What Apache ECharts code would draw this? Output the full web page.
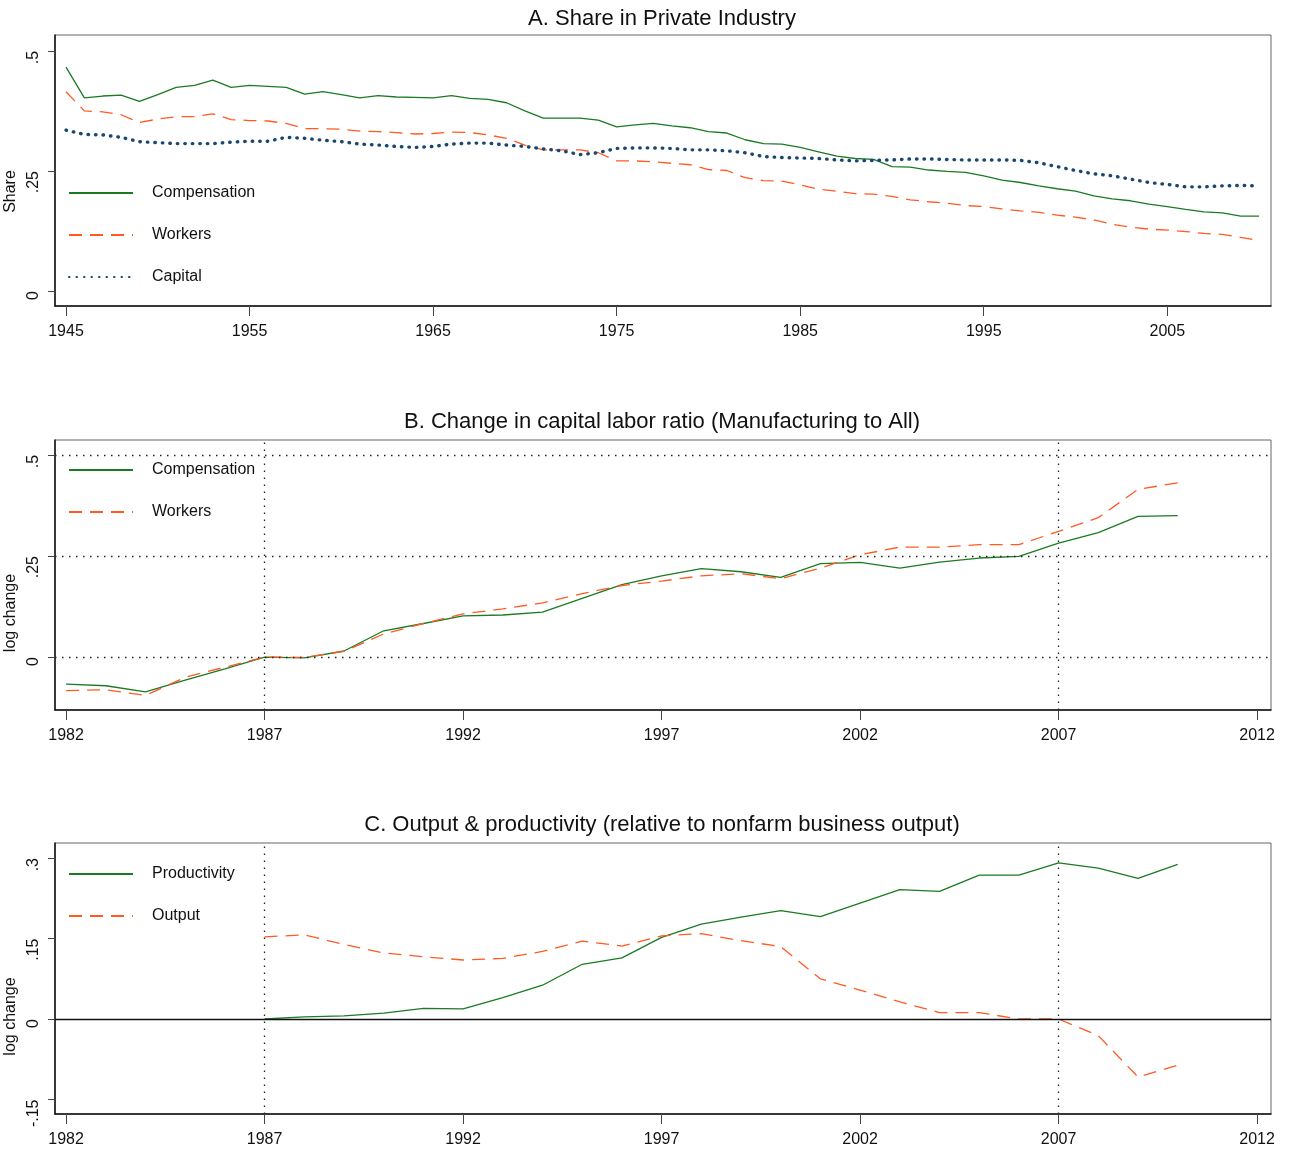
<!DOCTYPE html>
<html><head><meta charset="utf-8">
<script src="https://cdn.jsdelivr.net/npm/echarts@6/dist/echarts.min.js"></script>
<style>html,body{margin:0;padding:0;background:#fff}#c{width:1295px;height:1152px}</style>
</head><body><div id="c"></div><script>
// ---------- Panel A data ----------
const yearsA = [1945,1946,1947,1948,1949,1950,1951,1952,1953,1954,1955,1956,1957,1958,1959,1960,1961,1962,1963,1964,1965,1966,1967,1968,1969,1970,1971,1972,1973,1974,1975,1976,1977,1978,1979,1980,1981,1982,1983,1984,1985,1986,1987,1988,1989,1990,1991,1992,1993,1994,1995,1996,1997,1998,1999,2000,2001,2002,2003,2004,2005,2006,2007,2008,2009,2010];
const compA = [0.466,0.402,0.406,0.408,0.395,0.409,0.424,0.428,0.439,0.424,0.428,0.426,0.424,0.410,0.415,0.409,0.402,0.407,0.404,0.403,0.402,0.407,0.401,0.399,0.392,0.375,0.360,0.360,0.360,0.356,0.342,0.346,0.349,0.344,0.340,0.332,0.329,0.315,0.307,0.306,0.299,0.290,0.281,0.276,0.274,0.259,0.258,0.252,0.249,0.247,0.240,0.231,0.226,0.219,0.213,0.208,0.198,0.192,0.188,0.181,0.176,0.170,0.165,0.163,0.156,0.156];
const workA = [0.415,0.375,0.373,0.367,0.351,0.358,0.363,0.363,0.369,0.357,0.355,0.354,0.349,0.338,0.338,0.337,0.333,0.332,0.330,0.327,0.328,0.331,0.330,0.325,0.318,0.304,0.294,0.294,0.294,0.288,0.271,0.271,0.269,0.266,0.263,0.253,0.251,0.236,0.230,0.229,0.221,0.212,0.208,0.203,0.202,0.197,0.190,0.186,0.183,0.178,0.176,0.171,0.167,0.164,0.158,0.154,0.148,0.139,0.133,0.129,0.127,0.124,0.120,0.118,0.112,0.105];
const capA  = [0.335,0.326,0.325,0.320,0.311,0.309,0.307,0.307,0.307,0.310,0.312,0.312,0.320,0.318,0.314,0.311,0.306,0.304,0.301,0.299,0.301,0.306,0.308,0.308,0.304,0.301,0.296,0.292,0.284,0.288,0.297,0.298,0.298,0.297,0.294,0.294,0.292,0.288,0.280,0.278,0.277,0.276,0.273,0.271,0.272,0.273,0.275,0.275,0.274,0.273,0.273,0.273,0.272,0.267,0.259,0.251,0.244,0.240,0.233,0.226,0.222,0.217,0.217,0.219,0.220,0.219];
const ticksXA = [1945,1955,1965,1975,1985,1995,2005];
const ticksYA = [0,0.25,0.5];

// ---------- Panel B data ----------
const yearsB = [1982,1983,1984,1985,1986,1987,1988,1989,1990,1991,1992,1993,1994,1995,1996,1997,1998,1999,2000,2001,2002,2003,2004,2005,2006,2007,2008,2009,2010];
const compB = [-0.067,-0.071,-0.086,-0.057,-0.029,0,-0.002,0.015,0.065,0.083,0.102,0.104,0.111,0.145,0.179,0.201,0.219,0.211,0.197,0.231,0.234,0.220,0.235,0.245,0.249,0.282,0.308,0.348,0.350];
const workB = [-0.083,-0.081,-0.095,-0.050,-0.025,0,-0.001,0.014,0.057,0.083,0.107,0.119,0.134,0.157,0.177,0.188,0.201,0.206,0.194,0.220,0.253,0.272,0.272,0.278,0.278,0.311,0.345,0.415,0.431];
const ticksXB = [1982,1987,1992,1997,2002,2007,2012];
const ticksYB = [0,0.25,0.5];

// ---------- Panel C data ----------
const yearsC = [1987,1988,1989,1990,1991,1992,1993,1994,1995,1996,1997,1998,1999,2000,2001,2002,2003,2004,2005,2006,2007,2008,2009,2010];
const prodC = [0,0.004,0.006,0.011,0.020,0.019,0.040,0.063,0.102,0.114,0.152,0.177,0.190,0.202,0.191,0.216,0.241,0.238,0.268,0.268,0.291,0.281,0.262,0.288];
const outC  = [0.153,0.157,0.139,0.123,0.116,0.110,0.113,0.126,0.145,0.136,0.155,0.159,0.146,0.135,0.075,0.054,0.032,0.012,0.012,0.000,0.000,-0.031,-0.108,-0.086];
const ticksXC = [1982,1987,1992,1997,2002,2007,2012];
const ticksYC = [-0.15,0,0.15,0.3];
const refYears = [1987,2007];

// ---------- styles ----------
const FONT = 'Liberation Sans, Arial, sans-serif';
const GREEN = '#1c7a24', ORANGE = '#ff5a22', NAVY = '#1a476f';
const pairs = (xs, ys) => xs.map((x, i) => [x, ys[i]]);
const fmtY = v => { if (v === 0) return '0'; let s = String(v); return s.replace(/^0\./, '.').replace(/^-0\./, '-.'); };

function xAxis(idx, min, max, ticks) {
  return { type: 'value', gridIndex: idx, min, max,
    axisLine: { show: true, onZero: false, lineStyle: { color: '#111', width: 1.5 } },
    axisTick: { show: true, length: 10, customValues: ticks, lineStyle: { color: '#444', width: 1 } },
    axisLabel: { customValues: ticks, formatter: v => String(v), color: '#111', fontSize: 16, fontFamily: FONT, margin: 18 },
    splitLine: { show: false } };
}
function yAxis(idx, min, max, ticks, name, namePad) {
  return { type: 'value', gridIndex: idx, min, max,
    name, nameLocation: 'middle', nameGap: 24,
    nameTextStyle: { color: '#111', fontSize: 16, fontFamily: FONT, padding: [0, namePad, 0, 0] },
    axisLine: { show: true, onZero: false, lineStyle: { color: '#111', width: 1.5 } },
    axisTick: { show: true, length: 7, customValues: ticks, lineStyle: { color: '#444', width: 1 } },
    axisLabel: { customValues: ticks, rotate: 90, align: 'right', verticalAlign: 'bottom', formatter: fmtY,
      color: '#111', fontSize: 16, fontFamily: FONT, margin: 13 },
    splitLine: { show: false } };
}
const solid = c => ({ color: c, width: 1.3, type: 'solid' });
const dashed = c => ({ color: c, width: 1.3, type: [13, 8] });
const dotted = c => ({ color: c, width: 3.4, type: [0.5, 7], cap: 'round' });
const dotLine = { color: '#222', width: 1.3, type: [1.5, 5.5] };

function lineSeries(name, xi, data, ls, extra) {
  return Object.assign({ name, type: 'line', xAxisIndex: xi, yAxisIndex: xi, data, showSymbol: false, symbol: 'none',
    lineStyle: ls, itemStyle: { color: ls.color }, silent: true, animation: false }, extra || {});
}
const mk = (lines, style) => ({ symbol: 'none', silent: true, label: { show: false }, lineStyle: style, data: lines, animation: false });

const grids = [
  { left: 55, top: 35, width: 1216, height: 271 },
  { left: 55, top: 440, width: 1216, height: 270 },
  { left: 55, top: 843, width: 1216, height: 271 }
].map(g => Object.assign(g, { show: true, borderColor: '#666', borderWidth: 1, backgroundColor: '#fff',
  containLabel: false, outerBoundsMode: 'none' }));

const titleStyle = { color: '#111', fontSize: 22, fontWeight: 'normal', fontFamily: FONT };
const legendBase = { orient: 'vertical', left: 68, padding: 0, itemWidth: 64, itemHeight: 14, itemGap: 26,
  itemStyle: { color: 'rgba(0,0,0,0)', borderColor: 'rgba(0,0,0,0)', borderWidth: 0, opacity: 0 },
  textStyle: { color: '#111', fontSize: 16, fontFamily: FONT, padding: [0, 0, 0, 14] }, selectedMode: false };

const option = {
  backgroundColor: '#fff',
  animation: false,
  title: [
    { text: 'A. Share in Private Industry', left: 657, top: 3, textAlign: 'center', textStyle: titleStyle },
    { text: 'B. Change in capital labor ratio (Manufacturing to All)', left: 657, top: 406, textAlign: 'center', textStyle: titleStyle },
    { text: 'C. Output & productivity (relative to nonfarm business output)', left: 657, top: 809, textAlign: 'center', textStyle: titleStyle }
  ],
  grid: grids,
  legend: [
    Object.assign({}, legendBase, { top: 185, data: ['Compensation', 'Workers', 'Capital'] }),
    Object.assign({}, legendBase, { top: 462, data: ['Compensation ', 'Workers '] }),
    Object.assign({}, legendBase, { top: 866, data: ['Productivity', 'Output'] })
  ],
  xAxis: [
    xAxis(0, 1944.4, 2010.65, ticksXA),
    xAxis(1, 1981.72, 2012.35, ticksXB),
    xAxis(2, 1981.72, 2012.35, ticksXC)
  ],
  yAxis: [
    yAxis(0, -0.031, 0.533, ticksYA, 'Share', 42),
    yAxis(1, -0.131, 0.537, ticksYB, 'log change', 76),
    yAxis(2, -0.177, 0.328, ticksYC, 'log change', 76)
  ],
  series: [
    lineSeries('Compensation', 0, pairs(yearsA, compA), solid(GREEN)),
    lineSeries('Workers', 0, pairs(yearsA, workA), dashed(ORANGE)),
    lineSeries('Capital', 0, pairs(yearsA, capA), dotted(NAVY)),
    lineSeries('Compensation ', 1, pairs(yearsB, compB), solid(GREEN), {
      z: 3,
      markLine: mk([...ticksYB.map(v => ({ yAxis: v })), ...refYears.map(v => ({ xAxis: v }))], dotLine)
    }),
    lineSeries('Workers ', 1, pairs(yearsB, workB), dashed(ORANGE)),
    lineSeries('Productivity', 2, pairs(yearsC, prodC), solid(GREEN), {
      markLine: mk([{ yAxis: 0, lineStyle: { color: '#111', width: 1.3, type: 'solid' } }, ...refYears.map(v => ({ xAxis: v }))], dotLine)
    }),
    lineSeries('Output', 2, pairs(yearsC, outC), dashed(ORANGE))
  ]
};
const chart = echarts.init(document.getElementById('c'), null, { renderer: 'canvas' });
chart.setOption(option);
</script></body></html>
